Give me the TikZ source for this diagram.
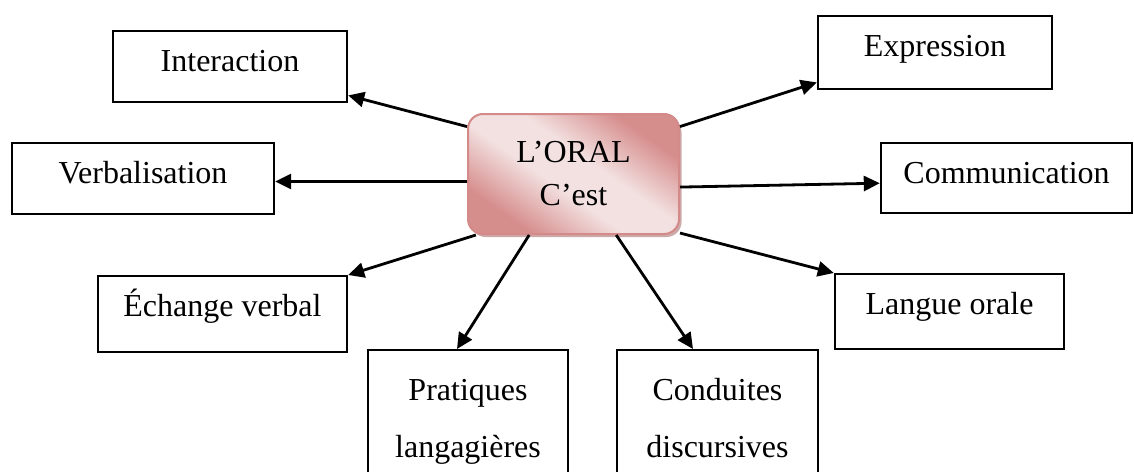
\documentclass[tikz,border=0pt]{standalone}
\usepackage{fontspec}
\setmainfont{Liberation Serif}
\usetikzlibrary{arrows.meta,calc,shadows}
\definecolor{pinkdark}{HTML}{D68E8D}
\definecolor{pinklight}{HTML}{F3E1E1}
\definecolor{pinkedge}{HTML}{D38A89}
\pgfdeclareverticalshading{pinkband}{100bp}{color(0bp)=(pinkdark); color(27bp)=(pinkdark); color(44bp)=(pinklight); color(56bp)=(pinklight); color(73bp)=(pinkdark); color(100bp)=(pinkdark)}
\newcommand{\bxt}[3]{\rule[-#2pt]{0pt}{\numexpr#1+#2\relax pt}#3}
\begin{document}
\begin{tikzpicture}[x=1pt,y=-1pt,
  box/.style={draw=black, line width=2.4pt, inner sep=0pt, align=center,
    font=\fontsize{32}{57}\selectfont},
  center/.style={rectangle, rounded corners=15pt, draw=pinkedge, line width=2pt,
    shading=pinkband, shading angle=-35, align=center, inner sep=0pt,
    font=\fontsize{32}{43}\selectfont,
    drop shadow={shadow xshift=2.5pt, shadow yshift=-3pt, fill=pinkdark!80!black, opacity=0.6}},
  arr/.style={line width=2.8pt, -{Triangle[length=16pt,width=15pt]}}]
\useasboundingbox (0,0) rectangle (1134,471);
\clip (0,0) rectangle (1134,471);
\fill[white] (0,0) rectangle (1134,471);

\node[center, minimum width=211pt, minimum height=120pt] (c) at (573.5,174) {L’ORAL\\C’est};

\node[box, minimum width=234pt, anchor=north] (inter) at (230,30) {\bxt{40}{31}{Interaction}};
\node[box, minimum width=262pt, anchor=north] (verb) at (143,142) {\bxt{40}{31}{Verbalisation}};
\node[box, minimum width=234pt, anchor=north] (expr) at (935,15) {\bxt{40}{33}{Expression}};
\node[box, minimum width=251pt, anchor=north] (comm) at (1006.5,142) {\bxt{40}{30}{Communication}};
\node[box, minimum width=249pt, anchor=north] (ech) at (222.5,275) {\bxt{40}{36}{Échange verbal}};
\node[box, minimum width=229pt, anchor=north] (lang) at (949.5,273) {\bxt{40}{35}{Langue orale}};
\node[box, minimum width=200pt, anchor=north] (prat) at (468,349) {\rule{0pt}{50pt}Pratiques\\langagières\rule[-60pt]{0pt}{60pt}};
\node[box, minimum width=201pt, anchor=north] (cond) at (717.5,349) {\rule{0pt}{50pt}Conduites\\discursives\rule[-60pt]{0pt}{60pt}};

\draw[arr] (c.156.4) -- ($(inter.south east)+(0,-8)$);
\draw[arr] (c.24.2) -- ($(expr.south west)+(0,-8)$);
\draw[arr] (c.184.3) -- (c.184.3 -| verb.east);
\draw[arr] (c.353.5) -- ($(comm.west)+(0,5)$);
\draw[arr] (c.212.1) -- (ech.north east);
\draw[arr] (c.331) -- (lang.north west);
\draw[arr] (c.234.2) -- ($(prat.north)+(-11,0)$);
\draw[arr] (c.305.2) -- ($(cond.north)+(-24.5,0)$);
\end{tikzpicture}
\end{document}
